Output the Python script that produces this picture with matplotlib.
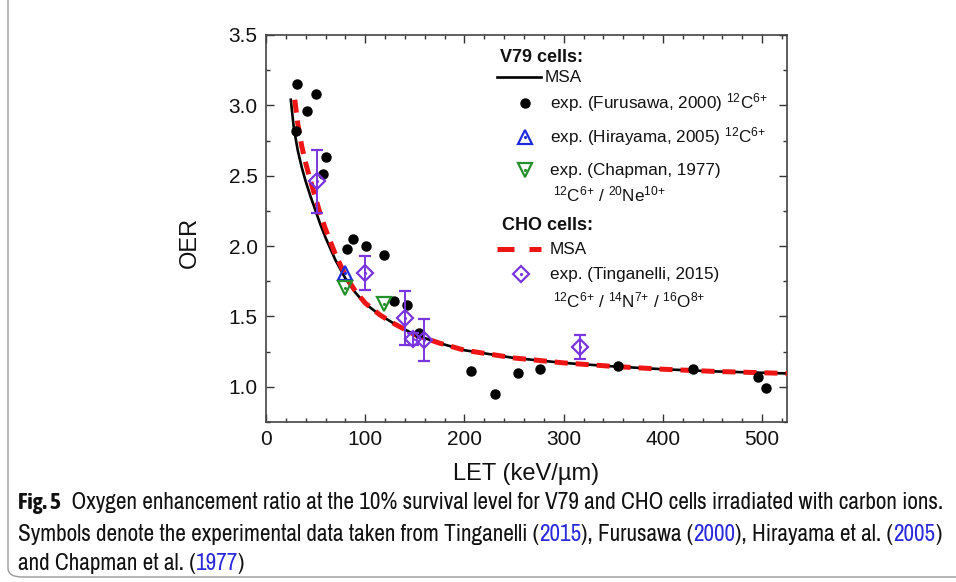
import numpy as np
import matplotlib
matplotlib.use("Agg")
import matplotlib.pyplot as plt
from matplotlib import font_manager
from matplotlib.patches import FancyBboxPatch
from matplotlib.lines import Line2D

# ---------------- DATA ----------------
# MSA model, V79 cells
msa_v79_let = [25, 28, 32, 36, 40, 45, 50, 55, 60, 70, 80, 90, 100, 115, 130,
               150, 175, 200, 250, 300, 350, 400, 450, 500, 525]
msa_v79_oer = [3.04, 2.84, 2.68, 2.56, 2.46, 2.35, 2.25, 2.15, 2.06, 1.90, 1.77,
               1.67, 1.59, 1.51, 1.445, 1.37, 1.31, 1.26, 1.205, 1.17, 1.145,
               1.125, 1.11, 1.10, 1.095]

# MSA model, CHO cells
msa_cho_let = [29, 32, 36, 40, 45, 50, 55, 60, 70, 80, 90, 100, 115, 130,
               150, 175, 200, 250, 300, 350, 400, 450, 500, 525]
msa_cho_oer = [3.04, 2.87, 2.71, 2.59, 2.46, 2.34, 2.22, 2.12, 1.94, 1.79, 1.68,
               1.595, 1.51, 1.445, 1.37, 1.31, 1.26, 1.205, 1.17, 1.145,
               1.125, 1.11, 1.10, 1.095]

# experiments
furusawa_let = [30, 31, 41, 50, 57, 60, 82, 88, 101, 119, 129, 142, 154,
                207, 231, 254, 276, 355, 430, 496, 504]
furusawa_oer = [2.82, 3.15, 2.96, 3.08, 2.51, 2.63, 1.98, 2.05, 2.00, 1.94,
                1.61, 1.58, 1.38, 1.11, 0.95, 1.10, 1.13, 1.15, 1.13, 1.07, 0.99]

hirayama_let = [80]
hirayama_oer = [1.81]

chapman_let = [80, 119]
chapman_oer = [1.70, 1.59]

tinganelli_let = [51, 100, 140, 148, 159, 316]
tinganelli_oer = [2.46, 1.81, 1.49, 1.34, 1.33, 1.28]
tinganelli_err = [0.225, 0.12, 0.19, 0.04, 0.15, 0.085]

# ---------------- STYLE ----------------
W, H = 956, 582
BLUE = "#1f2bdc"
GREEN = "#23902a"
PURPLE = "#7a35e0"
RED = "#ee1515"
TXT = "#111111"

plt.rcParams["font.family"] = ["Liberation Sans", "DejaVu Sans"]
plt.rcParams["mathtext.fontset"] = "custom"
plt.rcParams["mathtext.rm"] = "Liberation Sans"
plt.rcParams["mathtext.it"] = "Liberation Sans:italic"
plt.rcParams["mathtext.bf"] = "Liberation Sans:bold"


def is_weight(f, bold):
    w = f.weight
    if isinstance(w, str):
        w = 700 if w.lower() == "bold" else 400 if w.lower() in ("normal", "regular") else -1
    return w == (700 if bold else 400)


def pick_caption_font(bold):
    # a narrow / condensed face, like the journal caption
    for f in font_manager.fontManager.ttflist:
        if ("Narrow" in f.name or "Condensed" in f.name) and \
                is_weight(f, bold) and f.style == "normal":
            return f.name, "normal"
    for f in font_manager.fontManager.ttflist:
        if f.name in ("Noto Sans", "Open Sans", "Roboto") and is_weight(f, bold) \
                and f.style == "normal" and \
                str(f.stretch) in ("condensed", "semi-condensed"):
            return f.name, str(f.stretch)
    return "Open Sans", "normal"


cap_regular = pick_caption_font(False)
cap_bold = pick_caption_font(True)

fig = plt.figure(figsize=(W / 100, H / 100), dpi=100)
ax = fig.add_axes([266 / W, 1 - 422 / H, 521 / W, 387 / H])

# ---------------- CURVES ----------------
ax.plot(msa_v79_let, msa_v79_oer, color="black", lw=1.9, zorder=3)
ax.plot(msa_cho_let, msa_cho_oer, color=RED, lw=3.6,
        linestyle=(0, (2.6, 1.6)), zorder=4)

# ---------------- POINTS ----------------
ax.plot(furusawa_let, furusawa_oer, "o", color="black", ms=6.5, zorder=5)

ax.plot(hirayama_let, hirayama_oer, "^", mfc="none", mec=BLUE, mew=1.6,
        ms=10, zorder=6)
ax.plot(hirayama_let, hirayama_oer, ".", color=BLUE, ms=2.5, zorder=6)

ax.plot(chapman_let, chapman_oer, "v", mfc="none", mec=GREEN, mew=1.6,
        ms=10, zorder=6)
ax.plot(chapman_let, chapman_oer, ".", color=GREEN, ms=2.5, zorder=6)

ax.errorbar(tinganelli_let, tinganelli_oer, yerr=tinganelli_err, fmt="D",
            mfc="none", mec=PURPLE, mew=1.6, ms=8, ecolor=PURPLE,
            elinewidth=1.4, capsize=4, capthick=1.4, zorder=7)
ax.plot(tinganelli_let, tinganelli_oer, ".", color=PURPLE, ms=2.5, zorder=7)

# ---------------- AXES ----------------
ax.set_xlim(0, 525)
ax.set_ylim(0.75, 3.5)
ax.set_xticks(np.arange(0, 501, 100))
ax.set_xticks(np.arange(0, 521, 20), minor=True)
ax.set_yticks(np.arange(1.0, 3.51, 0.5))
ax.set_yticks(np.arange(0.75, 3.51, 0.25), minor=True)
ax.tick_params(which="both", direction="in", top=True, right=True,
               colors="#333333", labelcolor=TXT)
ax.tick_params(which="major", length=5.5, width=1.0, labelsize=15, pad=6)
ax.tick_params(which="minor", length=3, width=1.0)
for sp in ax.spines.values():
    sp.set_color("#444444")
    sp.set_linewidth(1.2)

ax.set_xlabel("LET (keV/\u00b5m)", fontsize=17, color=TXT)
ax.set_ylabel("OER", fontsize=17, color=TXT)
ax.xaxis.set_label_coords(0.5, -0.105)
ax.yaxis.set_label_coords(-0.125, 0.463)

# ---------------- LEGEND (hand placed) ----------------
leg_fs = 12.3
tr = ax.transAxes


def lx(px):
    return (px - 266) / 521


def ly(py):
    return (422 - py) / 387


C6 = r"\mathregular{^{12}C^{6{+}}}"

ax.text(lx(500), ly(57), "V79 cells:", transform=tr, fontsize=13,
        fontweight="bold", va="center", color=TXT)
ax.add_line(Line2D([lx(497), lx(541)], [ly(77), ly(77)], transform=tr,
                   color="black", lw=1.9))
ax.text(lx(545), ly(77), "MSA", transform=tr, fontsize=leg_fs, va="center",
        color=TXT)

ax.add_line(Line2D([lx(525)], [ly(103)], transform=tr, marker="o",
                   color="black", ms=6.5))
ax.text(lx(550), ly(103), "exp. (Furusawa, 2000) $" + C6 + "$",
        transform=tr, fontsize=leg_fs, va="center", color=TXT)

ax.add_line(Line2D([lx(525)], [ly(137)], transform=tr, marker="^", mfc="none",
                   mec=BLUE, mew=1.6, ms=10))
ax.add_line(Line2D([lx(525)], [ly(137)], transform=tr, marker=".",
                   color=BLUE, ms=2.5))
ax.text(lx(550), ly(137), "exp. (Hirayama, 2005) $" + C6 + "$",
        transform=tr, fontsize=leg_fs, va="center", color=TXT)

ax.add_line(Line2D([lx(525)], [ly(170)], transform=tr, marker="v", mfc="none",
                   mec=GREEN, mew=1.6, ms=10))
ax.add_line(Line2D([lx(525)], [ly(170)], transform=tr, marker=".",
                   color=GREEN, ms=2.5))
ax.text(lx(550), ly(170), "exp. (Chapman, 1977)", transform=tr,
        fontsize=leg_fs, va="center", color=TXT)
ax.text(lx(553), ly(194),
        r"$\mathregular{^{12}C^{6{+}}\ /\ ^{20}Ne^{10{+}}}$", transform=tr,
        fontsize=leg_fs, va="center", color=TXT)

ax.text(lx(502), ly(225), "CHO cells:", transform=tr, fontsize=13,
        fontweight="bold", va="center", color=TXT)
ax.add_line(Line2D([lx(497), lx(541)], [ly(249), ly(249)], transform=tr,
                   color=RED, lw=3.6, linestyle=(0, (3.4, 3.0))))
ax.text(lx(550), ly(249), "MSA", transform=tr, fontsize=leg_fs, va="center",
        color=TXT)

ax.add_line(Line2D([lx(521)], [ly(274)], transform=tr, marker="D", mfc="none",
                   mec=PURPLE, mew=1.6, ms=8))
ax.add_line(Line2D([lx(521)], [ly(274)], transform=tr, marker=".",
                   color=PURPLE, ms=2.5))
ax.text(lx(550), ly(274), "exp. (Tinganelli, 2015)", transform=tr,
        fontsize=leg_fs, va="center", color=TXT)
ax.text(lx(553), ly(300),
        r"$\mathregular{^{12}C^{6{+}}\ /\ ^{14}N^{7{+}}\ /\ ^{16}O^{8{+}}}$",
        transform=tr, fontsize=leg_fs, va="center", color=TXT)

# ---------------- FRAME AROUND FIGURE ----------------
box = FancyBboxPatch((8 / W, 1 - 577 / H), 1.2, 1.2,
                     boxstyle="round,pad=0,rounding_size=0.015",
                     transform=fig.transFigure, fill=False,
                     edgecolor="#9a9a9a", lw=1.0, clip_on=False)
fig.patches.append(box)

# ---------------- CAPTION ----------------
CITE = "#2a2adc"
caption = [
    (509, [("Fig. 5", TXT, "bold"),
           ("  Oxygen enhancement ratio at the 10% survival level for V79 "
            "and CHO cells irradiated with carbon ions.", TXT, "normal")]),
    (541, [("Symbols denote the experimental data taken from Tinganelli (",
            TXT, "normal"), ("2015", CITE, "normal"), ("), Furusawa (", TXT, "normal"),
           ("2000", CITE, "normal"), ("), Hirayama et al. (", TXT, "normal"),
           ("2005", CITE, "normal"), (")", TXT, "normal")]),
    (570, [("and Chapman et al. (", TXT, "normal"), ("1977", CITE, "normal"),
           (")", TXT, "normal")]),
]


def draw_caption(size):
    renderer = fig.canvas.get_renderer()
    made = []
    ends = []
    for y_px, segs in caption:
        x = 18
        for s, c, w in segs:
            fam, stretch = cap_bold if w == "bold" else cap_regular
            t = fig.text(x / W, 1 - y_px / H, s, color=c, fontsize=size,
                         fontweight=w, family=fam, stretch=stretch,
                         va="baseline", ha="left")
            bb = t.get_window_extent(renderer)
            x = bb.x1
            made.append(t)
        ends.append(x)
    return made, ends


texts, ends = draw_caption(12)
scale = (946 - 18) / (ends[0] - 18)
for t in texts:
    t.remove()
draw_caption(12 * scale)

fig.savefig("out.png", dpi=100)
